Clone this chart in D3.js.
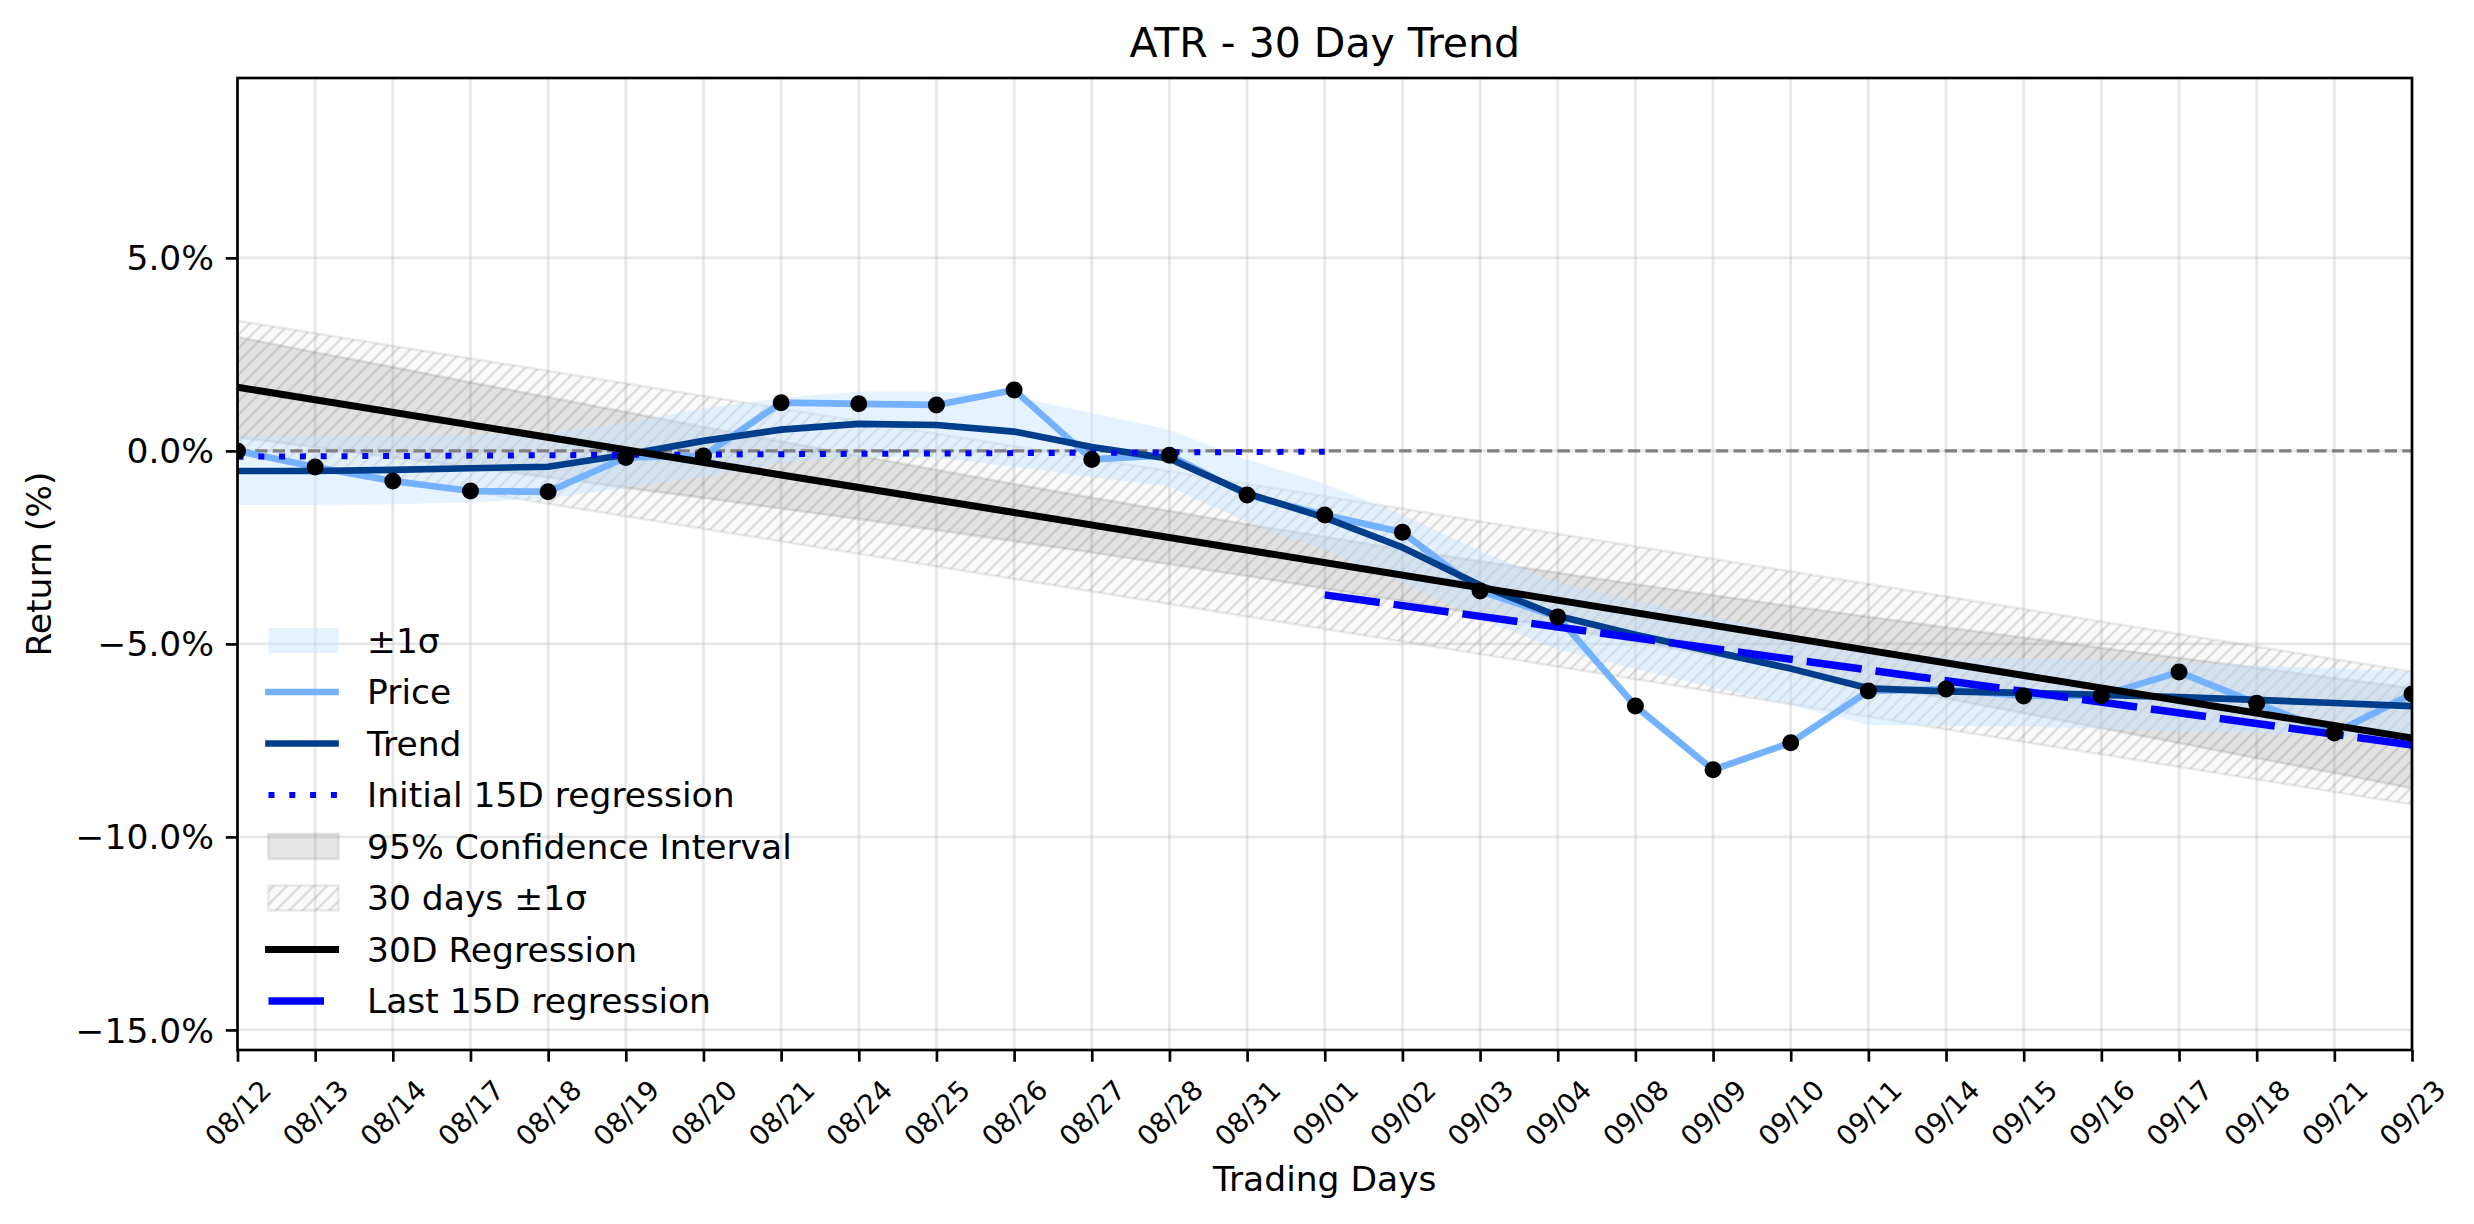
<!DOCTYPE html>
<html><head><meta charset="utf-8">
<script src="https://cdn.jsdelivr.net/npm/d3@7"></script>
<style>body{margin:0;background:#fff} text{font-family:"DejaVu Sans",sans-serif;fill:#000}</style>
</head><body><svg id="c" width="2474" height="1224"></svg>
<script>
// ---------- data ----------
const days = ["08/12","08/13","08/14","08/17","08/18","08/19","08/20","08/21","08/24","08/25","08/26","08/27","08/28","08/31","09/01","09/02","09/03","09/04","09/08","09/09","09/10","09/11","09/14","09/15","09/16","09/17","09/18","09/21","09/23"];
const price = [0.00,-0.42,-0.78,-1.04,-1.06,-0.17,-0.13,1.25,1.22,1.19,1.58,-0.22,-0.11,-1.14,-1.66,-2.11,-3.63,-4.30,-6.61,-8.26,-7.56,-6.22,-6.17,-6.35,-6.34,-5.73,-6.54,-7.31,-6.30];
const trend = [-0.52,-0.52,-0.49,-0.45,-0.41,-0.10,0.26,0.55,0.70,0.67,0.50,0.10,-0.20,-1.10,-1.73,-2.50,-3.48,-4.28,-4.76,-5.20,-5.64,-6.15,-6.23,-6.27,-6.32,-6.38,-6.45,-6.53,-6.61];
const bandUpper = [0.37,0.37,0.38,0.42,0.45,0.72,1.10,1.37,1.54,1.54,1.41,0.98,0.55,-0.23,-0.85,-1.65,-2.60,-3.40,-3.88,-4.30,-4.72,-5.22,-5.35,-5.37,-5.42,-5.48,-5.56,-5.64,-5.72];
const bandLower = [-1.40,-1.40,-1.38,-1.34,-1.23,-0.95,-0.67,-0.32,-0.15,-0.18,-0.41,-0.67,-0.92,-1.85,-2.56,-3.40,-4.36,-5.14,-5.65,-6.12,-6.58,-7.10,-7.12,-7.14,-7.20,-7.26,-7.31,-7.40,-7.45];
const reg30 = [1.65, -7.44];            // 30D regression at first / last day
const ciHalf = [1.30,1.23,1.17,1.10,1.04,0.98,0.92,0.87,0.82,0.78,0.74,0.71,0.69,0.67,0.67,0.67,0.69,0.71,0.74,0.78,0.82,0.87,0.92,0.98,1.04,1.10,1.17,1.23,1.30];
const sigma30 = 1.72;                   // 30 days ±1σ half width
const initReg = [-0.15, -0.02];         // initial 15D regression, days 0..14
const lastReg = [-3.73, -7.62];         // last 15D regression, days 14..28
const yTicks = [5, 0, -5, -10, -15];
const legendItems = ["±1σ","Price","Trend","Initial 15D regression","95% Confidence Interval","30 days ±1σ","30D Regression","Last 15D regression"];

// ---------- layout ----------
const L = 237.5, R = 2412, T = 78, B = 1050;
const FS = 34.5, FS_X = 27.5, FS_T = 41;
const svg = d3.select("#c");
const x = d3.scalePoint().domain(days).range([L, R]).padding(0);
const y = d3.scaleLinear().domain([-15.52, 9.66]).range([B, T]);
const n = days.length;
const regAt = i => reg30[0] + (reg30[1] - reg30[0]) * i / (n - 1);

const defs = svg.append("defs");
defs.append("clipPath").attr("id","clip").append("rect").attr("x",L).attr("y",T).attr("width",R-L).attr("height",B-T);
const pat = defs.append("pattern").attr("id","hatch").attr("patternUnits","userSpaceOnUse").attr("width",13.33).attr("height",13.33);
pat.append("path").attr("d","M0,13.33 L13.33,0 M-3.33,3.33 L3.33,-3.33 M10,16.66 L16.66,10").attr("stroke","#808080").attr("stroke-opacity",0.28).attr("stroke-width",2);

// grid
const grid = svg.append("g");
grid.selectAll(".gx").data(days).join("line").attr("x1",d=>x(d)).attr("x2",d=>x(d)).attr("y1",T).attr("y2",B)
  .attr("stroke","#b0b0b0").attr("stroke-opacity",0.3).attr("stroke-width",2.67);
grid.selectAll(".gy").data(yTicks).join("line").attr("x1",L).attr("x2",R).attr("y1",d=>y(d)).attr("y2",d=>y(d))
  .attr("stroke","#b0b0b0").attr("stroke-opacity",0.3).attr("stroke-width",2.67);

const plot = svg.append("g").attr("clip-path","url(#clip)");
const idx = d3.range(n);

// hatched 30 days ±1σ
const hatchArea = d3.area().x(i=>x(days[i])).y0(i=>y(regAt(i)-sigma30)).y1(i=>y(regAt(i)+sigma30));
const ends = [0, n-1];
plot.append("path").attr("d",hatchArea(ends)).attr("fill","#808080").attr("fill-opacity",0.05)
  .attr("stroke","#808080").attr("stroke-opacity",0.15).attr("stroke-width",2.67);
plot.append("path").attr("d",hatchArea(ends)).attr("fill","url(#hatch)");

// 95% CI
const ciArea = d3.area().x(i=>x(days[i])).y0(i=>y(regAt(i)-ciHalf[i])).y1(i=>y(regAt(i)+ciHalf[i]));
plot.append("path").attr("d",ciArea(idx)).attr("fill","#808080").attr("fill-opacity",0.2)
  .attr("stroke","#808080").attr("stroke-opacity",0.2).attr("stroke-width",2.67);

// ±1σ band
const bandArea = d3.area().x(i=>x(days[i])).y0(i=>y(bandLower[i])).y1(i=>y(bandUpper[i]));
plot.append("path").attr("d",bandArea(idx)).attr("fill","#c6e2ff").attr("fill-opacity",0.45);

// zero line
plot.append("line").attr("x1",L).attr("x2",R).attr("y1",y(0)).attr("y2",y(0))
  .attr("stroke","#808080").attr("stroke-width",3.33).attr("stroke-dasharray","12.3,5.3");

const line = d3.line().x(i=>x(days[i]));
// price
plot.append("path").attr("d",line.y(i=>y(price[i]))(idx)).attr("fill","none").attr("stroke","#74b2ff").attr("stroke-width",6.67).attr("stroke-linejoin","round");
// trend
plot.append("path").attr("d",line.y(i=>y(trend[i]))(idx)).attr("fill","none").attr("stroke","#003e8c").attr("stroke-width",6.67).attr("stroke-linejoin","round");
// initial 15D
plot.append("line").attr("x1",x(days[0])).attr("x2",x(days[14])).attr("y1",y(initReg[0])).attr("y2",y(initReg[1]))
  .attr("stroke","#0000ff").attr("stroke-width",6).attr("stroke-dasharray","6,14.8");
// last 15D
plot.append("line").attr("x1",x(days[14])).attr("x2",x(days[n-1])).attr("y1",y(lastReg[0])).attr("y2",y(lastReg[1]))
  .attr("stroke","#0000ff").attr("stroke-width",7.5).attr("stroke-dasharray","55.5,14");
// 30D regression
plot.append("line").attr("x1",x(days[0])).attr("x2",x(days[n-1])).attr("y1",y(regAt(0))).attr("y2",y(regAt(n-1)))
  .attr("stroke","#000").attr("stroke-width",7);
// dots
plot.selectAll("circle").data(idx).join("circle").attr("cx",i=>x(days[i])).attr("cy",i=>y(price[i])).attr("r",8.5).attr("fill","#000");

// frame
svg.append("rect").attr("x",L).attr("y",T).attr("width",R-L).attr("height",B-T).attr("fill","none").attr("stroke","#000").attr("stroke-width",2.67);

// axes
const xAxis = svg.append("g").attr("transform",`translate(0,${B})`)
  .call(d3.axisBottom(x).tickSize(11.7).tickSizeOuter(0));
xAxis.select(".domain").remove();
xAxis.selectAll(".tick line").attr("stroke","#000").attr("stroke-width",2.67);
xAxis.selectAll(".tick text").attr("y",null).attr("dy","0.35em").attr("text-anchor","middle")
  .attr("transform","translate(0,63) rotate(-45)").style("font-size",FS_X+"px").style("font-family","DejaVu Sans").attr("fill","#000");

const yAxis = svg.append("g").attr("transform",`translate(${L},0)`)
  .call(d3.axisLeft(y).tickValues(yTicks).tickSize(11.7).tickPadding(11.7).tickFormat(d=>d3.format(".1f")(d)+"%"));
yAxis.select(".domain").remove();
yAxis.selectAll(".tick line").attr("stroke","#000").attr("stroke-width",2.67);
yAxis.selectAll(".tick text").attr("dy","0.35em").style("font-size",FS+"px").style("font-family","DejaVu Sans").attr("fill","#000");

// titles
svg.append("text").attr("x",(L+R)/2).attr("y",57).attr("text-anchor","middle").style("font-size",FS_T+"px").text("ATR - 30 Day Trend");
svg.append("text").attr("x",(L+R)/2).attr("y",1191).attr("text-anchor","middle").style("font-size",FS+"px").text("Trading Days");
svg.append("text").attr("transform",`translate(51,${(T+B)/2}) rotate(-90)`).attr("text-anchor","middle").style("font-size",FS+"px").text("Return (%)");

// legend
const lg = svg.append("g");
const ly0 = 640.5, lstep = 51.5, hx0 = 268.5, hx1 = 335.5, tx = 367;
legendItems.forEach((name, k) => {
  const cy = ly0 + k*lstep;
  const g = lg.append("g");
  const solid = (col, w) => g.append("line").attr("x1",hx0).attr("x2",hx1).attr("y1",cy).attr("y2",cy).attr("stroke",col).attr("stroke-width",w).attr("stroke-linecap","square");
  if (k === 0) g.append("rect").attr("x",hx0).attr("y",cy-12.5).attr("width",70).attr("height",25).attr("fill","#c6e2ff").attr("fill-opacity",0.45);
  if (k === 1) solid("#74b2ff", 6.67);
  if (k === 2) solid("#003e8c", 6.67);
  if (k === 3) g.append("line").attr("x1",hx0).attr("x2",hx1+3).attr("y1",cy).attr("y2",cy).attr("stroke","#0000ff").attr("stroke-width",6).attr("stroke-dasharray","6,14.8");
  if (k === 4) g.append("rect").attr("x",hx0).attr("y",cy-12.5).attr("width",70).attr("height",25).attr("fill","#808080").attr("fill-opacity",0.2).attr("stroke","#808080").attr("stroke-opacity",0.2).attr("stroke-width",2.67);
  if (k === 5) {
    g.append("rect").attr("x",hx0).attr("y",cy-12.5).attr("width",70).attr("height",25).attr("fill","#808080").attr("fill-opacity",0.05).attr("stroke","#808080").attr("stroke-opacity",0.15).attr("stroke-width",2.67);
    g.append("rect").attr("x",hx0).attr("y",cy-12.5).attr("width",70).attr("height",25).attr("fill","url(#hatch)");
  }
  if (k === 6) solid("#000", 7);
  if (k === 7) g.append("line").attr("x1",hx0).attr("x2",hx1).attr("y1",cy).attr("y2",cy).attr("stroke","#0000ff").attr("stroke-width",7.5).attr("stroke-dasharray","55.5,14");
  g.append("text").attr("x",tx).attr("y",cy).attr("dy","0.35em").style("font-size",FS+"px").text(name);
});
</script></body></html>
